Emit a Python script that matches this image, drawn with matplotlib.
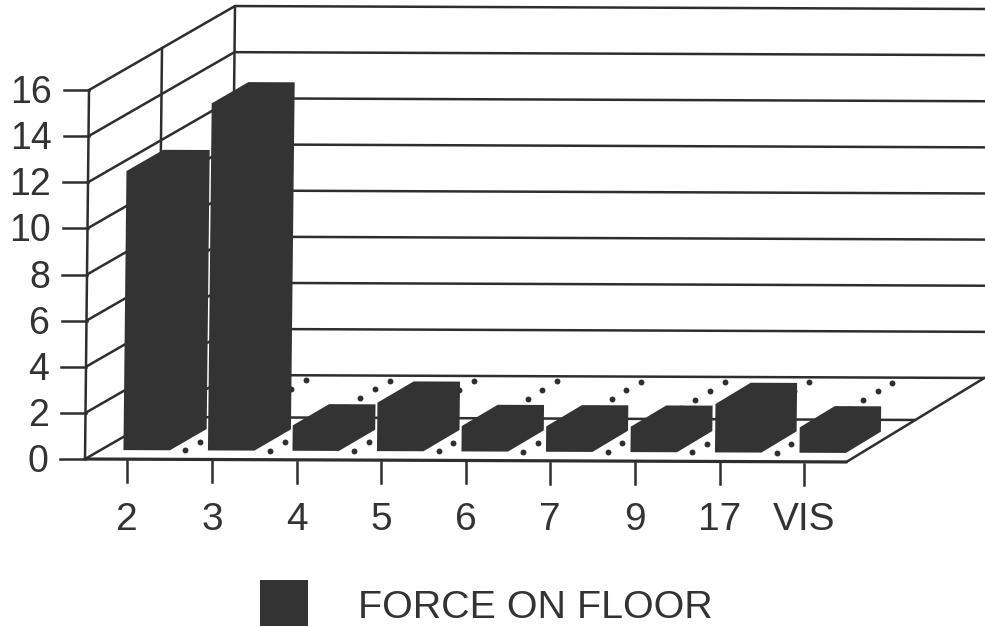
import numpy as np
from matplotlib import pyplot as plt

categories = ['2', '3', '4', '5', '6', '7', '9', '17', 'VIS']
force = [12.1, 15.05, 1.1, 2.1, 1.1, 1.1, 1.1, 2.1, 1.1]
y_ticks = [0, 2, 4, 6, 8, 10, 12, 14, 16]
legend_label = 'FORCE ON FLOOR'

dark = '#333333'
line = '#2e2e2e'

plt.rcParams['font.family'] = ['Liberation Sans', 'DejaVu Sans']


def project(c, v, t):
	# c = category position, v = value, t = depth into the floor (0 front, 1 back)
	x = 85 + c * 84.6 + v * 0.25 + t * (146 - c * 0.9)
	y = 459 + c * 0.33 - v * 23.06 - t * 84
	return x, y


def seg(c0, v0, t0, c1, v1, t1, lw=1.8, z=2):
	x0, y0 = project(c0, v0, t0)
	x1, y1 = project(c1, v1, t1)
	ax.plot([x0, x1], [y0, y1], color=line, lw=lw, zorder=z, solid_capstyle='round')


fig = plt.figure(figsize=(9.85, 6.27), dpi=100)
ax = fig.add_axes([0, 0, 1, 1])
ax.set_xlim(0, 985)
ax.set_ylim(627, 0)
ax.axis('off')

n = len(categories)

# walls
for v in y_ticks:
	seg(0, v, 0, 0, v, 1)
	seg(0, v, 1, 9.1, v, 1)
	x, y = project(0, v, 0)
	ax.plot([x - 25, x], [y, y], color=line, lw=1.8, zorder=2)
	ax.text(x - 37, y + 3, str(v), ha='right', va='center', fontsize=27, color=dark)
for t in [0, 0.5, 1]:
	seg(0, 0, t, 0, 16, t)

# floor
seg(0, 0, 0, n, 0, 0, lw=2.3)
seg(0, 0, 0.5, n, 0, 0.5)
seg(n, 0, 0, n, 0, 1)

dot_depth = np.linspace(0.107, 0.94, 9)
for c in range(1, n):
	px, py = project(c, 0, dot_depth)
	ax.scatter(px, py, s=18, color=line, linewidths=0, zorder=3)

# bars
c_off0, c_off1 = 0.27, 0.82
t0, t1 = 0.107, 0.36
for i, val in enumerate(force):
	c0 = i + c_off0
	c1 = i + c_off1
	corners = [(c0, 0, t0), (c0, val, t0), (c0, val, t1), (c1, val, t1), (c1, 0, t1), (c1, 0, t0)]
	px = [project(*p)[0] for p in corners]
	py = [project(*p)[1] for p in corners]
	ax.fill(px, py, color=dark, lw=0, zorder=4)

# category ticks and labels
for i, name in enumerate(categories):
	x, y = project(i + 0.5, 0, 0)
	ax.plot([x, x], [y + 2, y + 23], color=line, lw=1.8, zorder=2)
	ax.text(x, 520, name, ha='center', va='center', fontsize=28, color=dark)

# legend
ax.fill([260, 308, 308, 260], [580, 580, 626, 626], color=dark, lw=0, zorder=4)
ax.text(358, 608, legend_label, ha='left', va='center', fontsize=28.4, color=dark)

fig.savefig('out.png', dpi=100)
